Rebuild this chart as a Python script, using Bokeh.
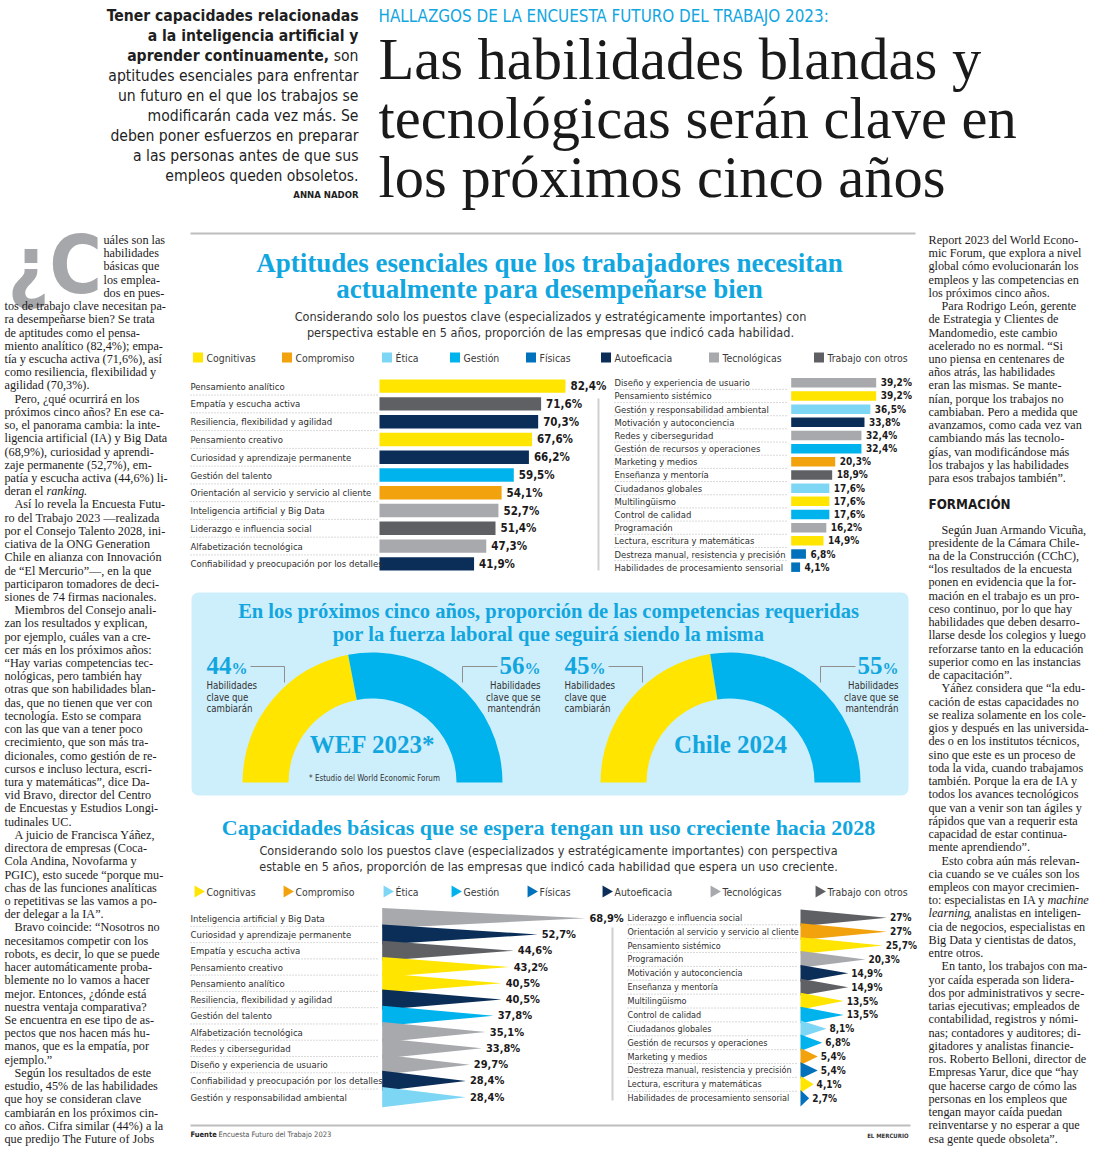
import unicodedata
import numpy as np
from bokeh.plotting import figure
from bokeh.models import Range1d, BoxAnnotation
from bokeh.core.properties import value
from bokeh.embed import file_html
from bokeh.resources import INLINE

# ---------------------------------------------------------------- data
CATEGORIES = ["Cognitivas", "Compromiso", "Ética", "Gestión", "Físicas",
              "Autoeficacia", "Tecnológicas", "Trabajo con otros"]
CAT_COLORS = ["#FFE500", "#F2A20C", "#7ED6F5", "#00B3EC", "#0071BA",
              "#0B2E59", "#A7A9AC", "#5F6063"]

NOW_LEFT_LABELS = ["Pensamiento analítico", "Empatía y escucha activa",
                   "Resiliencia, flexibilidad y agilidad", "Pensamiento creativo",
                   "Curiosidad y aprendizaje permanente", "Gestión del talento",
                   "Orientación al servicio y servicio al cliente",
                   "Inteligencia artificial y Big Data", "Liderazgo e influencia social",
                   "Alfabetización tecnológica", "Confiabilidad y preocupación por los detalles"]
NOW_LEFT_VALUES = [82.4, 71.6, 70.3, 67.6, 66.2, 59.5, 54.1, 52.7, 51.4, 47.3, 41.9]
NOW_LEFT_CATS = ["Cognitivas", "Trabajo con otros", "Autoeficacia", "Cognitivas",
                 "Autoeficacia", "Gestión", "Compromiso", "Tecnológicas",
                 "Trabajo con otros", "Tecnológicas", "Autoeficacia"]

NOW_RIGHT_LABELS = ["Diseño y experiencia de usuario", "Pensamiento sistémico",
                    "Gestión y responsabilidad ambiental", "Motivación y autoconciencia",
                    "Redes y ciberseguridad", "Gestión de recursos y operaciones",
                    "Marketing y medios", "Enseñanza y mentoría", "Ciudadanos globales",
                    "Multilingüismo", "Control de calidad", "Programación",
                    "Lectura, escritura y matemáticas",
                    "Destreza manual, resistencia y precisión",
                    "Habilidades de procesamiento sensorial"]
NOW_RIGHT_VALUES = [39.2, 39.2, 36.5, 33.8, 32.4, 32.4, 20.3, 18.9, 17.6, 17.6, 17.6,
                    16.2, 14.9, 6.8, 4.1]
NOW_RIGHT_CATS = ["Tecnológicas", "Cognitivas", "Ética", "Autoeficacia", "Tecnológicas",
                  "Gestión", "Compromiso", "Trabajo con otros", "Ética", "Cognitivas",
                  "Gestión", "Tecnológicas", "Cognitivas", "Físicas", "Físicas"]

GROW_LEFT_LABELS = ["Inteligencia artificial y Big Data", "Curiosidad y aprendizaje permanente",
                    "Empatía y escucha activa", "Pensamiento creativo", "Pensamiento analítico",
                    "Resiliencia, flexibilidad y agilidad", "Gestión del talento",
                    "Alfabetización tecnológica", "Redes y ciberseguridad",
                    "Diseño y experiencia de usuario",
                    "Confiabilidad y preocupación por los detalles",
                    "Gestión y responsabilidad ambiental"]
GROW_LEFT_VALUES = [68.9, 52.7, 44.6, 43.2, 40.5, 40.5, 37.8, 35.1, 33.8, 29.7, 28.4, 28.4]
GROW_LEFT_CATS = ["Tecnológicas", "Autoeficacia", "Trabajo con otros", "Cognitivas",
                  "Cognitivas", "Autoeficacia", "Gestión", "Tecnológicas", "Tecnológicas",
                  "Tecnológicas", "Autoeficacia", "Ética"]

GROW_RIGHT_LABELS = ["Liderazgo e influencia social", "Orientación al servicio y servicio al cliente",
                     "Pensamiento sistémico", "Programación", "Motivación y autoconciencia",
                     "Enseñanza y mentoría", "Multilingüismo", "Control de calidad",
                     "Ciudadanos globales", "Gestión de recursos y operaciones",
                     "Marketing y medios", "Destreza manual, resistencia y precisión",
                     "Lectura, escritura y matemáticas",
                     "Habilidades de procesamiento sensorial"]
GROW_RIGHT_VALUES = [27, 27, 25.7, 20.3, 14.9, 14.9, 13.5, 13.5, 8.1, 6.8, 5.4, 5.4, 4.1, 2.7]
GROW_RIGHT_CATS = ["Trabajo con otros", "Compromiso", "Cognitivas", "Tecnológicas",
                   "Autoeficacia", "Trabajo con otros", "Cognitivas", "Gestión", "Ética",
                   "Gestión", "Compromiso", "Físicas", "Cognitivas", "Físicas"]

GAUGE_TITLES = ["WEF 2023*", "Chile 2024"]
GAUGE_CHANGE = [44, 45]
GAUGE_KEEP = [56, 55]

# ---------------------------------------------------------------- texts
KICKER = "HALLAZGOS DE LA ENCUESTA FUTURO DEL TRABAJO 2023:"
HEADLINE = ["Las habilidades blandas y", "tecnológicas serán clave en", "los próximos cinco años"]
DECK = ["*Tener capacidades relacionadas*", "*a la inteligencia artificial y*",
        "*aprender continuamente,* son", "aptitudes esenciales para enfrentar",
        "un futuro en el que los trabajos se", "modificarán cada vez más. Se",
        "deben poner esfuerzos en preparar", "a las personas antes de que sus",
        "empleos queden obsoletos."]
BYLINE = "ANNA NADOR"

LEFT_COL = [
    "uáles son las", "habilidades", "básicas que", "los emplea-", "dos en pues-",
    "tos de trabajo clave necesitan pa-", "ra desempeñarse bien? Se trata",
    "de aptitudes como el pensa-", "miento analítico (82,4%); empa-",
    "tía y escucha activa (71,6%), así", "como resiliencia, flexibilidad y",
    "agilidad (70,3%).",
    "¶Pero, ¿qué ocurrirá en los", "próximos cinco años? En ese ca-",
    "so, el panorama cambia: la inte-", "ligencia artificial (IA) y Big Data",
    "(68,9%), curiosidad y aprendi-", "zaje permanente (52,7%), em-",
    "patía y escucha activa (44,6%) li-", "deran el _ranking_.",
    "¶Así lo revela la Encuesta Futu-", "ro del Trabajo 2023 —realizada",
    "por el Consejo Talento 2028, ini-", "ciativa de la ONG Generation",
    "Chile en alianza con Innovación", "de “El Mercurio”—, en la que",
    "participaron tomadores de deci-", "siones de 74 firmas nacionales.",
    "¶Miembros del Consejo anali-", "zan los resultados y explican,",
    "por ejemplo, cuáles van a cre-", "cer más en los próximos años:",
    "“Hay varias competencias tec-", "nológicas, pero también hay",
    "otras que son habilidades blan-", "das, que no tienen que ver con",
    "tecnología. Esto se compara", "con las que van a tener poco",
    "crecimiento, que son más tra-", "dicionales, como gestión de re-",
    "cursos e incluso lectura, escri-", "tura y matemáticas”, dice Da-",
    "vid Bravo, director del Centro", "de Encuestas y Estudios Longi-",
    "tudinales UC.",
    "¶A juicio de Francisca Yáñez,", "directora de empresas (Coca-",
    "Cola Andina, Novofarma y", "PGIC), esto sucede “porque mu-",
    "chas de las funciones analíticas", "o repetitivas se las vamos a po-",
    "der delegar a la IA”.",
    "¶Bravo coincide: “Nosotros no", "necesitamos competir con los",
    "robots, es decir, lo que se puede", "hacer automáticamente proba-",
    "blemente no lo vamos a hacer", "mejor. Entonces, ¿dónde está",
    "nuestra ventaja comparativa?", "Se encuentra en ese tipo de as-",
    "pectos que nos hacen más hu-", "manos, que es la empatía, por",
    "ejemplo.”",
    "¶Según los resultados de este", "estudio, 45% de las habilidades",
    "que hoy se consideran clave", "cambiarán en los próximos cin-",
    "co años. Cifra similar (44%) a la", "que predijo The Future of Jobs",
]
DROP_CAP = "¿C"
DROP_LINES = 5

RIGHT_COL_A = [
    "Report 2023 del World Econo-", "mic Forum, que explora a nivel",
    "global cómo evolucionarán los", "empleos y las competencias en",
    "los próximos cinco años.",
    "¶Para Rodrigo León, gerente", "de Estrategia y Clientes de",
    "Mandomedio, este cambio", "acelerado no es normal. “Si",
    "uno piensa en centenares de", "años atrás, las habilidades",
    "eran las mismas. Se mante-", "nían, porque los trabajos no",
    "cambiaban. Pero a medida que", "avanzamos, como cada vez van",
    "cambiando más las tecnolo-", "gías, van modificándose más",
    "los trabajos y las habilidades", "para esos trabajos también”.",
]
SECTION = "FORMACIÓN"
RIGHT_COL_B = [
    "¶Según Juan Armando Vicuña,", "presidente de la Cámara Chile-",
    "na de la Construcción (CChC),", "“los resultados de la encuesta",
    "ponen en evidencia que la for-", "mación en el trabajo es un pro-",
    "ceso continuo, por lo que hay", "habilidades que deben desarro-",
    "llarse desde los colegios y luego", "reforzarse tanto en la educación",
    "superior como en las instancias", "de capacitación”.",
    "¶Yáñez considera que “la edu-", "cación de estas capacidades no",
    "se realiza solamente en los cole-", "gios y después en las universida-",
    "des o en los institutos técnicos,", "sino que este es un proceso de",
    "toda la vida, cuando trabajamos", "también. Porque la era de IA y",
    "todos los avances tecnológicos", "que van a venir son tan ágiles y",
    "rápidos que van a requerir esta", "capacidad de estar continua-",
    "mente aprendiendo”.",
    "¶Esto cobra aún más relevan-", "cia cuando se ve cuáles son los",
    "empleos con mayor crecimien-", "to: especialistas en IA y _machine_",
    "_learning_, analistas en inteligen-", "cia de negocios, especialistas en",
    "Big Data y cientistas de datos,", "entre otros.",
    "¶En tanto, los trabajos con ma-", "yor caída esperada son lidera-",
    "dos por administrativos y secre-", "tarias ejecutivas; empleados de",
    "contabilidad, registros y nómi-", "nas; contadores y auditores; di-",
    "gitadores y analistas financie-", "ros. Roberto Belloni, director de",
    "Empresas Yarur, dice que “hay", "que hacerse cargo de cómo las",
    "personas en los empleos que", "tengan mayor caída puedan",
    "reinventarse y no esperar a que", "esa gente quede obsoleta”.",
]

C1_TITLE = ["Aptitudes esenciales que los trabajadores necesitan",
            "actualmente para desempeñarse bien"]
C1_SUB = ["Considerando solo los puestos clave (especializados y estratégicamente importantes) con",
          "perspectiva estable en 5 años, proporción de las empresas que indicó cada habilidad."]
C2_TITLE = ["En los próximos cinco años, proporción de las competencias requeridas",
            "por la fuerza laboral que seguirá siendo la misma"]
C2_CHANGE_TXT = ["Habilidades", "clave que", "cambiarán"]
C2_KEEP_TXT = ["Habilidades", "clave que se", "mantendrán"]
C2_NOTE = "* Estudio del World Economic Forum"
C3_TITLE = "Capacidades básicas que se espera tengan un uso creciente hacia 2028"
C3_SUB = ["Considerando solo los puestos clave (especializados y estratégicamente importantes) con perspectiva",
          "estable en 5 años, proporción de las empresas que indicó cada habilidad que espera un uso creciente."]
SOURCE_LABEL = "Fuente"
SOURCE = "Encuesta Futuro del Trabajo 2023"
BRAND = "EL MERCURIO"

# ---------------------------------------------------------------- style
SANS = "DejaVu Sans Condensed, Roboto"
SERIF = "Liberation Serif"
INK = "#1C1A1B"
LABEL = "#2E2E2E"
CYAN = "#12A6DF"
RULE = "#BDBDBD"
COLOR = dict(zip(CATEGORIES, CAT_COLORS))

TIMES = {" ": 250, "a": 444, "b": 500, "c": 444, "d": 500, "e": 444, "f": 333, "g": 500,
         "h": 500, "i": 278, "j": 278, "k": 500, "l": 278, "m": 778, "n": 500, "o": 500,
         "p": 500, "q": 500, "r": 333, "s": 389, "t": 278, "u": 500, "v": 500, "w": 722,
         "x": 500, "y": 500, "z": 444, ",": 250, ".": 250, ":": 278, ";": 278}
ARIAL = {" ": 278, "a": 556, "b": 556, "c": 500, "d": 556, "e": 556, "f": 278, "g": 556,
         "h": 556, "i": 222, "j": 222, "k": 500, "l": 222, "m": 833, "n": 556, "o": 556,
         "p": 556, "q": 556, "r": 333, "s": 500, "t": 278, "u": 556, "v": 500, "w": 722,
         "x": 500, "y": 500, "z": 500, ",": 278, ".": 278, "(": 333, ")": 333, "%": 889,
         "C": 722, "E": 667, "F": 611, "H": 722, "T": 611, "A": 667}
ARIAL_B = {" ": 278, "a": 556, "b": 611, "c": 556, "d": 611, "e": 556, "f": 333, "g": 611,
           "h": 611, "i": 278, "j": 278, "k": 556, "l": 278, "m": 889, "n": 611, "o": 611,
           "p": 611, "q": 611, "r": 389, "s": 556, "t": 333, "u": 611, "v": 556, "w": 778,
           "x": 556, "y": 556, "z": 500, ",": 278, ".": 278}


def text_width(s, size, table, default=556):
    tot = 0
    for ch in s:
        base = unicodedata.normalize("NFD", ch)[0]
        tot += table.get(base, default)
    return tot / 1000.0 * size


def fit(s, width, table=ARIAL):
    return round(width / text_width(s, 1.0, table), 2)


def pct(v):
    if float(v).is_integer():
        return f"{int(v)}%"
    return f"{v:.1f}".replace(".", ",") + "%"


# ---------------------------------------------------------------- figure
PX0, PX1, PY0, PY1 = 0, 1092, 0, 1146
p = figure(width=PX1 - PX0, height=PY1 - PY0,
           x_range=Range1d(PX0, PX1), y_range=Range1d(PY1, PY0),
           output_backend="svg", toolbar_location=None, min_border=0,
           x_axis_location=None, y_axis_location=None)
p.grid.visible = False
p.outline_line_color = None
p.background_fill_color = "white"
p.border_fill_color = "white"


def T(x, y, text, size, font=SANS, color=INK, style="normal", align="left",
      baseline="middle", xr="default", yr="default", x_offset=0):
    if isinstance(text, str):
        text = [text]
        x = [x]
        y = [y]
    p.text(x=x, y=y, text=text, text_font=value(font), text_font_size=value(f"{size}px"),
           text_color=color, text_font_style=style, text_align=align,
           text_baseline=baseline, x_range_name=xr, y_range_name=yr, x_offset=x_offset)


def panel(name, x_at0, kx, y_at0, ky):
    p.extra_x_ranges[name] = Range1d(start=(PX0 - x_at0) / kx, end=(PX1 - x_at0) / kx)
    p.extra_y_ranges[name] = Range1d(start=(PY1 - y_at0) / ky, end=(PY0 - y_at0) / ky)


def body(lines, x_left, x_indent, y0, dy, size, first_x=None, n_first=0):
    groups = {}
    for i, line in enumerate(lines):
        indent = line.startswith("¶")
        s = line.lstrip("¶")
        x = x_indent if indent else x_left
        if first_x is not None and i < n_first:
            x = first_x
        y = y0 + i * dy
        for k, seg in enumerate(s.split("_")):
            if not seg:
                continue
            st = "italic" if k % 2 else "normal"
            g = groups.setdefault(st, ([], [], []))
            g[0].append(x)
            g[1].append(y)
            g[2].append(seg)
            x += text_width(seg, size, TIMES, default=500)
    for st, (xs, ys, ts) in groups.items():
        T(xs, ys, ts, size, font=SERIF, color=INK, style=st)


# ---------------------------------------------------------------- header
T(378, 15, KICKER, fit(KICKER, 455), color=CYAN)
HEAD_SIZE = 58.5
for i, line in enumerate(HEADLINE):
    T(378, 79 + i * 59 - 0.338 * HEAD_SIZE, line, HEAD_SIZE, font=SERIF, color="#1A1A1A")

DECK_SIZE = 15.6
deck = {"bold": ([], [], []), "normal": ([], [], [])}
for i, line in enumerate(DECK):
    y = 15 + i * 20
    x = 358
    segs = line.split("*")
    for k in range(len(segs) - 1, -1, -1):
        seg = segs[k]
        if not seg.strip():
            continue
        st = "bold" if k % 2 == 1 else "normal"
        deck[st][0].append(x)
        deck[st][1].append(y)
        deck[st][2].append(seg.strip())
        x -= text_width(seg, DECK_SIZE, ARIAL_B if st == "bold" else ARIAL)
for st, (xs, ys, ts) in deck.items():
    T(xs, ys, ts, DECK_SIZE, color="#1E1E1E", style=st, align="right")
T(358, 194, BYLINE, 9.5, color="#1E1E1E", style="bold", align="right")

# ---------------------------------------------------------------- side columns
T(7, 265, DROP_CAP, 80, font=SANS, color="#A5A7AA", style="bold")
body(LEFT_COL, 4, 14, 239.5, 13.22, 12.2, first_x=103, n_first=DROP_LINES)
body(RIGHT_COL_A, 928, 941, 239.5, 13.22, 12.2)
T(928, 504, SECTION, 13.3, color=INK, style="bold")
body(RIGHT_COL_B, 928, 941, 529, 13.24, 12.2)

# ---------------------------------------------------------------- rules
p.segment(x0=[190, 190], x1=[915, 910], y0=[233, 1125], y1=[233, 1125],
          line_color=RULE, line_width=2)
p.segment(x0=[598, 612], x1=[598, 612], y0=[398, 927], y1=[570, 1100],
          line_color="#CFCFCF", line_width=2)

# ---------------------------------------------------------------- legends
LEG_TEXT_X = [206, 295, 395, 463, 539, 614, 722, 827]
LEG_SIZE = 10.4
T(LEG_TEXT_X, [357] * 8, CATEGORIES, LEG_SIZE, color="#3A3A3A")
p.scatter(x=[v - 8.5 for v in LEG_TEXT_X], y=[357] * 8, marker="square", size=10,
          fill_color=CAT_COLORS, line_color=None)
T(LEG_TEXT_X, [891] * 8, CATEGORIES, LEG_SIZE, color="#3A3A3A")
p.scatter(x=[v - 8.5 for v in LEG_TEXT_X], y=[891] * 8, marker="triangle", size=12,
          angle=-np.pi / 2, fill_color=CAT_COLORS, line_color=None)

# ---------------------------------------------------------------- chart 1
T([549, 549], [262, 288], C1_TITLE, 27, font=SERIF, color=CYAN, style="bold", align="center")
T([550, 550], [316, 332], C1_SUB, fit(C1_SUB[0], 503), color="#333333", align="center")


def bar_panel(name, labels, values, cats, label_x, sep_x1, bar_h, lab_size, val_size, val_off):
    idx = np.arange(len(labels))
    p.hbar(y=idx, left=0, right=values, height=bar_h,
           fill_color=[COLOR[c] for c in cats], line_color=None,
           x_range_name=name, y_range_name=name)
    T([label_x] * len(labels), list(idx), labels, lab_size, color=LABEL, yr=name)
    T(list(values), list(idx), [pct(v) for v in values], val_size, color=INK,
      style="bold", xr=name, yr=name, x_offset=val_off)
    p.segment(x0=label_x, x1=sep_x1, y0=idx[:-1] + 0.5, y1=idx[:-1] + 0.5,
              line_color="#B5B5B5", line_dash="1 2", line_width=1, y_range_name=name)


panel("c1L", 379, 2.257, 385.7, 17.76)
bar_panel("c1L", NOW_LEFT_LABELS, NOW_LEFT_VALUES, NOW_LEFT_CATS, 190, 377, 0.75, 9.5, 11.5, 5)
panel("c1R", 790.7, 2.168, 382.3, 13.17)
bar_panel("c1R", NOW_RIGHT_LABELS, NOW_RIGHT_VALUES, NOW_RIGHT_CATS, 614, 787, 0.72, 9.4, 10, 4.5)

# ---------------------------------------------------------------- chart 2 (gauges)
p.add_layout(BoxAnnotation(left=191, right=908, top=592, bottom=795, fill_color="#CDEEFB",
                           fill_alpha=1, line_color=None, border_radius=7, level="underlay"))
T([548, 548], [610, 633], C2_TITLE, 20.5, font=SERIF, color=CYAN, style="bold", align="center")

p.extra_y_ranges["g"] = Range1d(start=-PY1, end=-PY0)
GAUGE_CX = [372, 730]
GAUGE_CY = -782
change = np.array(GAUGE_CHANGE, dtype=float)
split = np.pi * (1 - change / 100.0)
p.annular_wedge(x=GAUGE_CX, y=[GAUGE_CY] * 2, inner_radius=84, outer_radius=130,
                start_angle=split, end_angle=[np.pi] * 2, direction="anticlock",
                fill_color="#FFE500", line_color=None, y_range_name="g")
p.annular_wedge(x=GAUGE_CX, y=[GAUGE_CY] * 2, inner_radius=84, outer_radius=130,
                start_angle=[0, 0], end_angle=split, direction="anticlock",
                fill_color="#00B3EC", line_color=None, y_range_name="g")

for cx, name, ch, kp in zip(GAUGE_CX, GAUGE_TITLES, GAUGE_CHANGE, GAUGE_KEEP):
    lx, rx = cx - 166, cx + 168
    T(lx, 665, str(ch), 25, font=SERIF, color=CYAN, style="bold")
    T(lx + 25, 668, "%", 16, font=SERIF, color=CYAN, style="bold")
    T(rx, 668, "%", 16, font=SERIF, color=CYAN, style="bold", align="right")
    T(rx - 16, 665, str(kp), 25, font=SERIF, color=CYAN, style="bold", align="right")
    T([lx] * 3, [685, 696.5, 708], C2_CHANGE_TXT, 9.6, color="#333333")
    T([rx] * 3, [685, 696.5, 708], C2_KEEP_TXT, 9.6, color="#333333", align="right")
    p.segment(x0=[cx - 122, cx - 88, cx + 90, cx + 90], x1=[cx - 88, cx - 88, cx + 125, cx + 90],
              y0=[666, 666, 666, 666], y1=[666, 682, 666, 682], line_color="#8F8F8F", line_width=1)
    T(cx, 744, name, 25, font=SERIF, color=CYAN, style="bold", align="center")
T(GAUGE_CX[0] + 2, 778, C2_NOTE, 8, color="#333333", align="center")

# ---------------------------------------------------------------- chart 3 (triangles)
T(548, 827, C3_TITLE, 22, font=SERIF, color=CYAN, style="bold", align="center")
T([548, 548], [850, 866], C3_SUB, fit(C3_SUB[0], 567), color="#333333", align="center")


def tri_panel(name, labels, values, cats, label_x, sep_x1, half, lab_size, val_size, val_off):
    idx = np.arange(len(labels))
    xs = [[0, 0, v] for v in values]
    ys = [[i - half, i + half, i] for i in idx]
    p.patches(xs=xs, ys=ys, fill_color=[COLOR[c] for c in cats], line_color=None,
              x_range_name=name, y_range_name=name)
    T([label_x] * len(labels), list(idx), labels, lab_size, color=LABEL, yr=name)
    T(list(values), list(idx), [pct(v) for v in values], val_size, color=INK,
      style="bold", xr=name, yr=name, x_offset=val_off)
    p.segment(x0=label_x, x1=sep_x1, y0=idx[:-1] + 0.5, y1=idx[:-1] + 0.5,
              line_color="#B5B5B5", line_dash="1 2", line_width=1, y_range_name=name)


panel("c3L", 381.7, 2.95, 917.7, 16.27)
tri_panel("c3L", GROW_LEFT_LABELS, GROW_LEFT_VALUES, GROW_LEFT_CATS, 190, 378, 0.62, 9.5, 11, 4)
panel("c3R", 800, 3.2, 917.3, 13.88)
tri_panel("c3R", GROW_RIGHT_LABELS, GROW_RIGHT_VALUES, GROW_RIGHT_CATS, 627, 797, 0.6, 9, 10, 3)

# ---------------------------------------------------------------- footer
T(190, 1134, SOURCE_LABEL, 7.5, color="#222222", style="bold")
T(218, 1134, SOURCE, 7.5, color="#555555")
T(908, 1135, BRAND, 6, color="#333333", style="bold", align="right")

open("out.html", "w").write(file_html(p, INLINE))
